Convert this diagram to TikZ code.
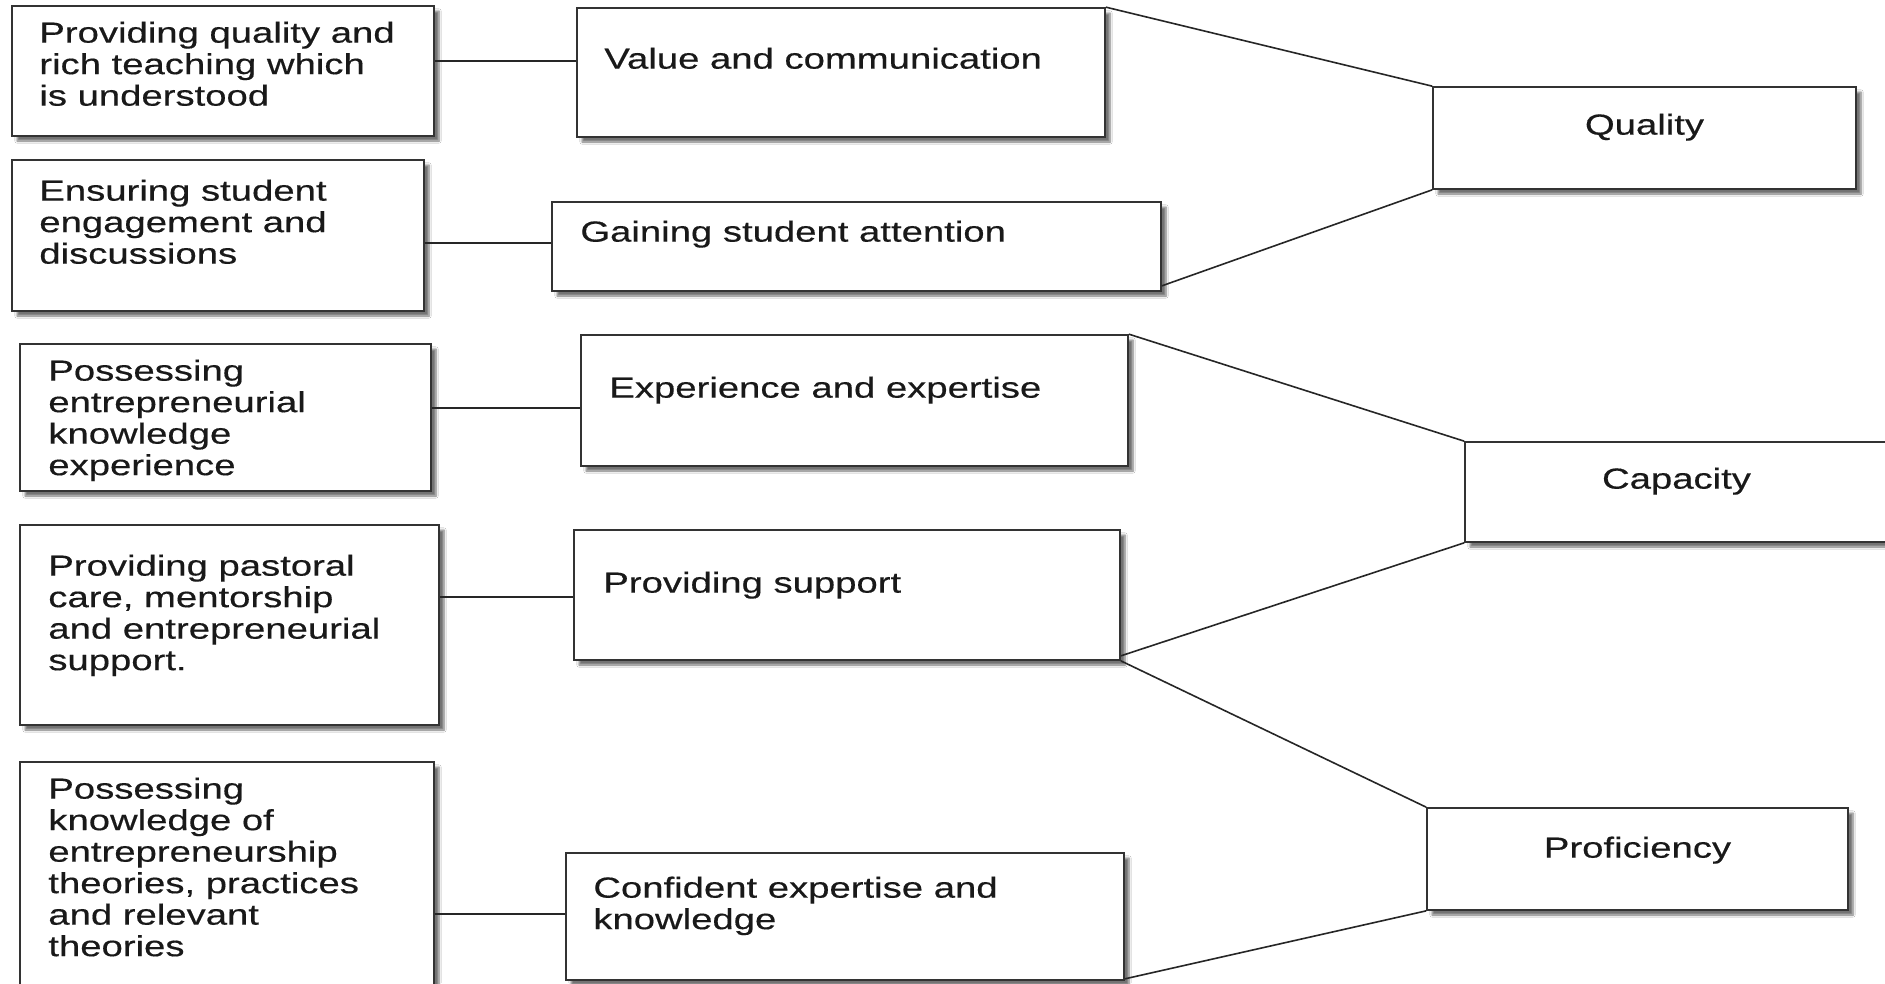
\documentclass[tikz,border=0pt]{standalone}
\usepackage{fontspec}
\setmainfont{Liberation Sans}[FakeStretch=1.32,FakeBold=0.4]
\usetikzlibrary{shadows.blur}
\newcommand\boxtext[1]{\parbox[t]{600pt}{#1}}
\begin{document}
\begin{tikzpicture}[x=1pt,y=-1pt,
  bx/.style={draw=black!80, line width=1.7pt, fill=white, inner sep=0pt,
    blur shadow={shadow xshift=5pt, shadow yshift=-5pt, shadow blur steps=6, shadow opacity=55}},
  tx/.style={inner sep=0pt, anchor=base west, font=\fontsize{29}{31.5}\selectfont, text=black!90},
  tc/.style={inner sep=0pt, anchor=base, font=\fontsize{29}{31.5}\selectfont, text=black!90},
  ln/.style={draw=black!85, line width=1.6pt}]
\useasboundingbox[fill=white] (0,0) rectangle (1885,983);
% boxes
\node[bx, minimum width=422pt, minimum height=130pt] (L1) at (223,71) {};
\node[bx, minimum width=528pt, minimum height=129pt] (M1) at (841,72.5) {};
\node[bx, minimum width=423pt, minimum height=102pt] (Q) at (1644.5,138) {};
\node[bx, minimum width=412pt, minimum height=151pt] (L2) at (218,235.5) {};
\node[bx, minimum width=609pt, minimum height=89pt] (M2) at (856.5,246.5) {};
\node[bx, minimum width=411pt, minimum height=147pt] (L3) at (225.5,417.5) {};
\node[bx, minimum width=547pt, minimum height=131pt] (M3) at (854.5,400.5) {};
\node[bx, minimum width=423pt, minimum height=100pt] (C) at (1676.5,492) {};
\node[bx, minimum width=419pt, minimum height=200pt] (L4) at (229.5,625) {};
\node[bx, minimum width=546pt, minimum height=130pt] (M4) at (847,595) {};
\node[bx, minimum width=414pt, minimum height=238pt] (L5) at (227,881) {};
\node[bx, minimum width=558pt, minimum height=127pt] (M5) at (845,916.5) {};
\node[bx, minimum width=421pt, minimum height=102pt] (P) at (1637.5,859) {};
% texts
\node[tx] (tL1) at ([xshift=28pt,yshift=-37.5pt]L1.north west) {\boxtext{Providing quality and\\rich teaching which\\is understood}};
\node[tx] (tM1) at ([xshift=28pt,yshift=-61.5pt]M1.north west) {Value and communication};
\node[tc] (tQ) at ([yshift=-48.5pt]Q.north) {Quality};
\node[tx] (tL2) at ([xshift=28pt,yshift=-41.5pt]L2.north west) {\boxtext{Ensuring student\\engagement and\\discussions}};
\node[tx] (tM2) at ([xshift=29pt,yshift=-40.5pt]M2.north west) {Gaining student attention};
\node[tx] (tL3) at ([xshift=29pt,yshift=-37.5pt]L3.north west) {\boxtext{Possessing\\entrepreneurial\\knowledge\\experience}};
\node[tx] (tM3) at ([xshift=29pt,yshift=-63.5pt]M3.north west) {Experience and expertise};
\node[tc] (tC) at ([yshift=-47.5pt]C.north) {Capacity};
\node[tx] (tL4) at ([xshift=29pt,yshift=-51.5pt]L4.north west) {\boxtext{Providing pastoral\\care, mentorship\\and entrepreneurial\\support.}};
\node[tx] (tM4) at ([xshift=30pt,yshift=-63.5pt]M4.north west) {Providing support};
\node[tx] (tL5) at ([xshift=29pt,yshift=-37.5pt]L5.north west) {\boxtext{Possessing\\knowledge of\\entrepreneurship\\theories, practices\\and relevant\\theories}};
\node[tx] (tM5) at ([xshift=28pt,yshift=-45.5pt]M5.north west) {\boxtext{Confident expertise and\\knowledge}};
\node[tc] (tP) at ([yshift=-50.5pt]P.north) {Proficiency};
% connectors
\draw[ln] (L1.east |- 0,61) -- (M1.west |- 0,61);
\draw[ln] (L2.east |- 0,243) -- (M2.west |- 0,243);
\draw[ln] (L3.east |- 0,408) -- (M3.west |- 0,408);
\draw[ln] (L4.east |- 0,597) -- (M4.west |- 0,597);
\draw[ln] (L5.east |- 0,914) -- (M5.west |- 0,914);
\draw[ln] (M1.north east) -- (Q.north west);
\draw[ln] ([yshift=6pt]M2.south east) -- (Q.south west);
\draw[ln] (M3.north east) -- (C.north west);
\draw[ln] ([yshift=5pt]M4.south east) -- (C.south west);
\draw[ln] (M4.south east) -- (P.north west);
\draw[ln] ([yshift=2pt]M5.south east) -- (P.south west);
\end{tikzpicture}
\end{document}
